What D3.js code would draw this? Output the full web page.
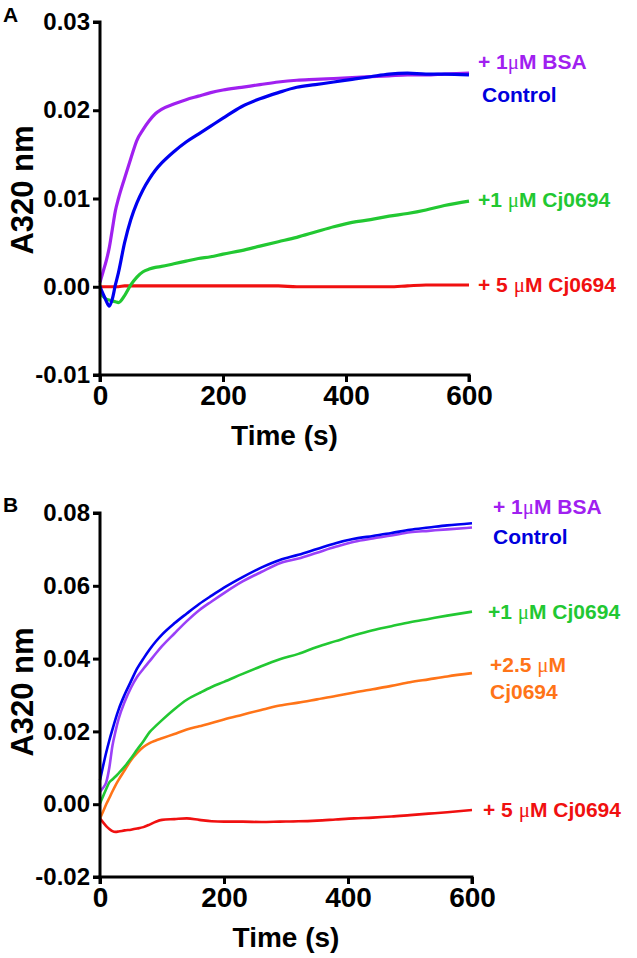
<!DOCTYPE html>
<html><head><meta charset="utf-8">
<script src="https://cdn.jsdelivr.net/npm/d3@7"></script>
<style>
html,body{margin:0;padding:0;background:#fff;}
svg text{font-family:"Liberation Sans",Arial,sans-serif;font-weight:bold;}
</style></head>
<body><svg id="chart" width="637" height="958"></svg>
<script>
// ---- Data ----
const time = [0,5,10,15,20,25,30,40,50,60,70,80,90,100,120,140,160,180,200,230,260,290,320,350,380,410,440,470,500,530,560,600];

// Panel A
const bsaA     = [0.0005,0.0017,0.0029,0.0044,0.0065,0.0086,0.0100,0.0123,0.0145,0.0166,0.0178,0.0188,0.0196,0.0201,0.0207,0.0212,0.0216,0.0220,0.0223,0.0226,0.0229,0.0232,0.0234,0.0235,0.0236,0.0237,0.0238,0.0239,0.0240,0.0240,0.0241,0.0242];
const controlA = [0.0000,-0.0008,-0.0016,-0.0022,-0.0014,0.0002,0.0016,0.0050,0.0076,0.0095,0.0110,0.0122,0.0132,0.0140,0.0153,0.0164,0.0173,0.0182,0.0191,0.0204,0.0213,0.0220,0.0226,0.0229,0.0232,0.0235,0.0238,0.0241,0.0242,0.0241,0.0241,0.0240];
const cj1A     = [-0.0007,-0.0011,-0.0014,-0.0015,-0.0016,-0.0017,-0.0018,-0.0010,0.0002,0.0011,0.0017,0.0020,0.0022,0.0023,0.0026,0.0029,0.0032,0.0034,0.0037,0.0041,0.0046,0.0051,0.0056,0.0062,0.0068,0.0073,0.0076,0.0080,0.0083,0.0087,0.0092,0.0097];
const cj5A     = [0.0000,0.0000,0.0000,0.0000,0.0000,0.0000,0.0000,0.0001,0.0001,0.0001,0.0001,0.0001,0.0001,0.0001,0.0001,0.0001,0.0001,0.0001,0.0001,0.0001,0.0001,0.0001,0.0000,0.0000,0.0000,0.0000,0.0000,0.0000,0.0001,0.0002,0.0002,0.0002];

// Panel B
const controlB = [0.0066,0.0105,0.0142,0.0175,0.0205,0.0234,0.0260,0.0302,0.0338,0.0373,0.0400,0.0425,0.0447,0.0466,0.0497,0.0524,0.0550,0.0573,0.0595,0.0624,0.0650,0.0671,0.0685,0.0701,0.0717,0.0729,0.0737,0.0745,0.0754,0.0760,0.0766,0.0772];
const bsaB     = [0.0034,0.0045,0.0060,0.0100,0.0160,0.0200,0.0234,0.0282,0.0320,0.0350,0.0372,0.0393,0.0414,0.0434,0.0469,0.0503,0.0533,0.0557,0.0580,0.0612,0.0638,0.0662,0.0675,0.0691,0.0707,0.0721,0.0730,0.0738,0.0747,0.0751,0.0755,0.0760];
const cj1B     = [0.0002,0.0022,0.0042,0.0060,0.0068,0.0076,0.0085,0.0104,0.0126,0.0150,0.0173,0.0198,0.0215,0.0231,0.0261,0.0287,0.0305,0.0322,0.0336,0.0358,0.0379,0.0398,0.0413,0.0432,0.0448,0.0464,0.0478,0.0489,0.0500,0.0509,0.0518,0.0529];
const cj25B    = [-0.0039,-0.0020,0.0000,0.0017,0.0035,0.0052,0.0067,0.0094,0.0121,0.0141,0.0157,0.0168,0.0175,0.0181,0.0193,0.0205,0.0214,0.0223,0.0233,0.0246,0.0259,0.0271,0.0279,0.0288,0.0297,0.0307,0.0316,0.0325,0.0335,0.0343,0.0351,0.0360];
const cj5B     = [-0.0039,-0.0050,-0.0060,-0.0068,-0.0074,-0.0076,-0.0075,-0.0072,-0.0070,-0.0067,-0.0063,-0.0056,-0.0048,-0.0043,-0.0041,-0.0039,-0.0043,-0.0047,-0.0048,-0.0048,-0.0049,-0.0048,-0.0047,-0.0045,-0.0042,-0.0039,-0.0037,-0.0034,-0.0030,-0.0026,-0.0022,-0.0016];

const xTicks = [0,200,400,600];
const yTicksA = [-0.01,0.00,0.01,0.02,0.03];
const yTicksB = [-0.02,0.00,0.02,0.04,0.06,0.08];

// ---- Drawing ----
const svg = d3.select("#chart");
const fmtY = d => d3.format(".2f")(d).replace("\u2212","-");

function panel(cfg){
  const g = svg.append("g");
  const x = d3.scaleLinear().domain([0,600]).range([cfg.x0,cfg.x1]);
  const y = d3.scaleLinear().domain(cfg.yDomain).range([cfg.yBottom,cfg.yTop]);

  const line = d3.line().x((d,i)=>x(time[i])).y(d=>y(d)).curve(d3.curveMonotoneX);
  cfg.series.forEach(s=>{
    g.append("path").datum(s.values)
      .attr("d",line).attr("fill","none")
      .attr("stroke",s.color).attr("stroke-width",cfg.sw)
      .attr("stroke-linejoin","round");
  });

  const yAxis = d3.axisLeft(y).tickValues(cfg.yTicks).tickFormat(fmtY).tickSize(7).tickPadding(3);
  const ya = g.append("g").attr("transform",`translate(${cfg.x0},0)`).call(yAxis);
  ya.select(".domain").attr("stroke","#000").attr("stroke-width",3).attr("d",`M-7,${cfg.yTop}H0V${cfg.yBottom}H-7`);
  ya.selectAll(".tick line").attr("stroke","#000").attr("stroke-width",3);
  ya.selectAll(".tick text").attr("font-size",24).attr("fill","#000")
    .style("font-family","'Liberation Sans',Arial,sans-serif").style("font-weight","bold");

  const xAxis = d3.axisBottom(x).tickValues(xTicks).tickFormat(d3.format("d")).tickSize(7).tickPadding(3);
  const xa = g.append("g").attr("transform",`translate(0,${cfg.yBottom})`).call(xAxis);
  xa.select(".domain").attr("stroke","#000").attr("stroke-width",3).attr("d",`M${cfg.x0},7V0H${cfg.x1}V7`);
  xa.selectAll(".tick line").attr("stroke","#000").attr("stroke-width",3);
  xa.selectAll(".tick text").attr("font-size",28).attr("fill","#000")
    .style("font-family","'Liberation Sans',Arial,sans-serif").style("font-weight","bold");

  g.append("text").attr("x",(cfg.x0+cfg.x1)/2).attr("y",cfg.yBottom+60).attr("dy","0.35em")
    .attr("text-anchor","middle").attr("font-size",28).text("Time (s)");
  g.append("text").attr("transform",`translate(22,${cfg.titleY}) rotate(-90)`)
    .attr("dy","0.35em").attr("text-anchor","middle").attr("font-size",31).text("A320 nm");

  g.append("text").attr("x",3).attr("y",cfg.letterY).attr("dy","0.35em").attr("font-size",21).text(cfg.letter);

  cfg.labels.forEach(l=>{
    const t = g.append("text").attr("x",l.x).attr("y",l.y).attr("dy","0.35em")
      .attr("font-size",21).attr("fill",l.color);
    l.parts.forEach(p=>{
      const ts = t.append("tspan").text(p.t);
      if(p.mu){ ts.style("font-family","'Liberation Serif','Times New Roman',serif").style("font-weight","normal"); }
    });
  });
}

const purple="#a020f0", blue="#0000f0", green="#22c832", red="#f01010", orange="#ff7418";
const purpleB="#9b40f8";

panel({
  x0:100,x1:469,yTop:22,yBottom:375,yDomain:[-0.01,0.03],yTicks:yTicksA,sw:3.2,
  letter:"A",letterY:15,titleY:190,
  series:[
    {values:cj5A,color:red},
    {values:cj1A,color:green},
    {values:bsaA,color:purple},
    {values:controlA,color:blue}
  ],
  labels:[
    {x:478,y:62,color:purple,parts:[{t:"+ 1"},{t:"μ",mu:true},{t:"M BSA"}]},
    {x:482,y:95,color:"#0000dd",parts:[{t:"Control"}]},
    {x:478,y:200,color:green,parts:[{t:"+1 "},{t:"μ",mu:true},{t:"M Cj0694"}]},
    {x:478,y:285,color:red,parts:[{t:"+ 5 "},{t:"μ",mu:true},{t:"M Cj0694"}]}
  ]
});

panel({
  x0:100,x1:472,yTop:513,yBottom:877,yDomain:[-0.02,0.08],yTicks:yTicksB,sw:2.6,
  letter:"B",letterY:505,titleY:692,
  series:[
    {values:cj5B,color:red},
    {values:cj25B,color:orange},
    {values:cj1B,color:green},
    {values:bsaB,color:purpleB},
    {values:controlB,color:blue}
  ],
  labels:[
    {x:493,y:507,color:purple,parts:[{t:"+ 1"},{t:"μ",mu:true},{t:"M BSA"}]},
    {x:493,y:537,color:"#0000dd",parts:[{t:"Control"}]},
    {x:488,y:612,color:green,parts:[{t:"+1 "},{t:"μ",mu:true},{t:"M Cj0694"}]},
    {x:490,y:665,color:orange,parts:[{t:"+2.5 "},{t:"μ",mu:true},{t:"M"}]},
    {x:490,y:692,color:orange,parts:[{t:"Cj0694"}]},
    {x:483,y:810,color:red,parts:[{t:"+ 5 "},{t:"μ",mu:true},{t:"M Cj0694"}]}
  ]
});
</script>
</body></html>
